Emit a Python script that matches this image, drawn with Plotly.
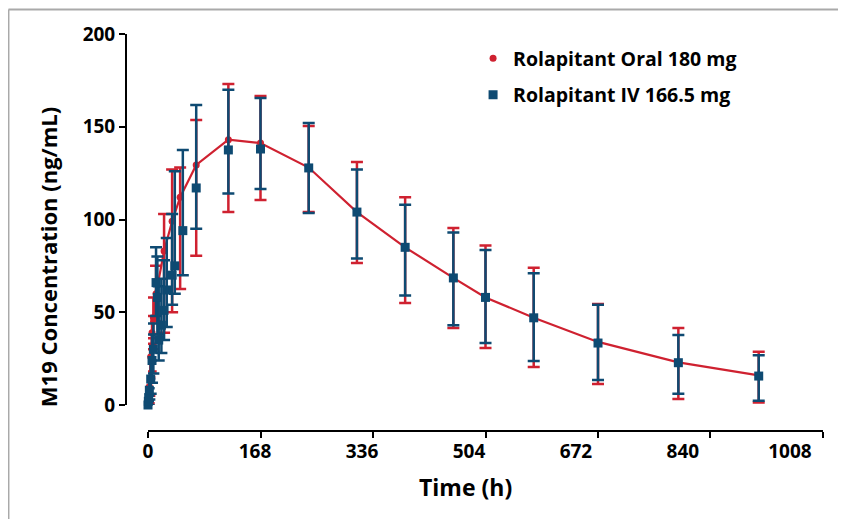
import plotly.graph_objects as go

# Oral 180 mg: time (h), mean, upper and lower ends of the error bar (ng/mL)
oral_time = [0, 1, 2, 4, 6, 8, 12, 24, 36, 48, 72, 120, 168, 240, 312, 384, 456, 504, 576, 672, 792, 912]
oral_mean = [0, 3, 10, 26, 39, 47, 60, 83, 99, 112, 129.4, 143, 141.2, 128, 104, 85, 68.5, 58, 47, 34, 23, 16]
oral_hi = [0, 5, 15, 33, 48, 58, 75, 103, 127, 128, 153.6, 173, 166.6, 150.4, 131, 112, 95.4, 86, 74, 54.4, 41.5, 28.7]
oral_lo = [0, 1, 5, 18, 30, 36, 45, 39, 50, 62.5, 80.5, 104, 110.5, 104, 76.5, 55, 41.5, 30.7, 20.5, 11.3, 3.2, 1.3]

# IV 166.5 mg
iv_time = [0, 0.5, 1, 2, 4, 6, 8, 12, 14, 16, 20, 24, 28, 36, 40, 52, 72, 120, 168, 240, 312, 384, 456, 504, 576, 672, 792, 912]
iv_mean = [0, 2, 4, 8, 14, 24, 30, 66, 58, 35, 43, 51, 62, 70, 75, 94, 117, 137.5, 138, 127.8, 104, 85, 68.5, 58, 47, 33.4, 22.8, 15.6]
iv_hi = [2, 5, 9, 14, 24, 38, 44, 85, 80, 64, 68, 78, 90, 103, 126, 137.5, 161.7, 170, 165.5, 152, 127, 108, 93, 83.5, 71, 54, 37.7, 26.8]
iv_lo = [-2, -1, 0, 3, 6, 12, 17, 48, 38, 24, 28, 35, 42, 54, 60, 70, 95, 114, 116.4, 103.5, 79, 59, 43, 33.4, 23.7, 13.5, 6.1, 2.3]

x_ticks = [0, 168, 336, 504, 672, 840, 1008]
y_ticks = [0, 50, 100, 150, 200]

RED = "#cf2130"
BLUE = "#0e4a72"
FONT = "Open Sans"


def err(mean, hi, lo, color):
    up = [h - m for h, m in zip(hi, mean)]
    down = [m - l for m, l in zip(mean, lo)]
    return dict(type="data", symmetric=False, array=up, arrayminus=down,
                color=color, thickness=2.5, width=6)


fig = go.Figure()

# oral: line drawn separately so the legend shows only the marker
fig.add_trace(go.Scatter(
    x=oral_time, y=oral_mean, mode="lines",
    line=dict(color=RED, width=2.2),
    error_y=err(oral_mean, oral_hi, oral_lo, RED),
    showlegend=False, cliponaxis=False,
))
fig.add_trace(go.Scatter(
    x=oral_time, y=oral_mean, mode="markers", name="Rolapitant Oral 180 mg",
    marker=dict(color=RED, size=7, symbol="circle"),
    legendgroup="oral", cliponaxis=False,
))
fig.add_trace(go.Scatter(
    x=iv_time, y=iv_mean, mode="markers", name="Rolapitant IV 166.5 mg",
    marker=dict(color=BLUE, size=9, symbol="square"),
    error_y=err(iv_mean, iv_hi, iv_lo, BLUE),
    legendgroup="iv", cliponaxis=False,
))
# empty trace so the label axis gets drawn
fig.add_trace(go.Scatter(x=[], y=[], xaxis="x2", showlegend=False))

tick_font = dict(family=FONT, size=19, color="black", weight="bold")
title_font = dict(family=FONT, color="black", weight="bold")

# page body has an 8px margin, so the figure is 8px smaller than the window
fig.update_layout(
    width=838, height=511,
    margin=dict(l=92, r=23, t=26, b=88),
    paper_bgcolor="white",
    plot_bgcolor="white",
    showlegend=True,
    legend=dict(
        x=0.516, y=0.987, xanchor="left", yanchor="top",
        font=dict(family=FONT, size=19.5, color="black", weight="bold"),
        bgcolor="rgba(0,0,0,0)", tracegroupgap=8, traceorder="grouped",
    ),
    xaxis=dict(
        domain=[0.0664, 1], range=[0, 1008],
        anchor="free", position=0,
        tickvals=x_ticks, showticklabels=False,
        ticks="outside", ticklen=6, tickwidth=2, tickcolor="black",
        showline=True, linewidth=2, linecolor="black",
        showgrid=False, zeroline=False,
    ),
    # tick labels of the original sit on a slightly tighter scale than its tick marks
    xaxis2=dict(
        range=[0, 1060],
        overlaying="x", anchor="free", position=0, side="bottom",
        tickvals=x_ticks, tickfont=tick_font,
        ticks="outside", ticklen=3, tickcolor="rgba(0,0,0,0)",
        showline=False, showgrid=False, zeroline=False,
    ),
    yaxis=dict(
        domain=[0.0655, 1], range=[0, 200],
        anchor="free", position=0.036,
        tickvals=y_ticks, tickfont=tick_font,
        ticks="outside", ticklen=6, tickwidth=2, tickcolor="black",
        showline=True, linewidth=2, linecolor="black",
        showgrid=False, zeroline=False,
    ),
    annotations=[
        dict(text="M19 Concentration (ng/mL)", textangle=-90,
             xref="paper", yref="paper", x=-0.0719, y=0.438,
             xanchor="center", yanchor="middle", showarrow=False,
             font=dict(title_font, size=22)),
        dict(text="Time (h)",
             xref="paper", yref="paper", x=0.506, y=-0.141,
             xanchor="center", yanchor="middle", showarrow=False,
             font=dict(title_font, size=23)),
    ],
    shapes=[
        dict(type="line", xref="paper", yref="paper", x0=-0.1266, x1=-0.1266, y0=-0.3, y1=1.0617,
             line=dict(color="#a9a9a9", width=2)),
        dict(type="line", xref="paper", yref="paper", x0=-0.1266, x1=1.1, y0=1.0617, y1=1.0617,
             line=dict(color="#a9a9a9", width=2)),
    ],
)

fig.write_html("out.html")
